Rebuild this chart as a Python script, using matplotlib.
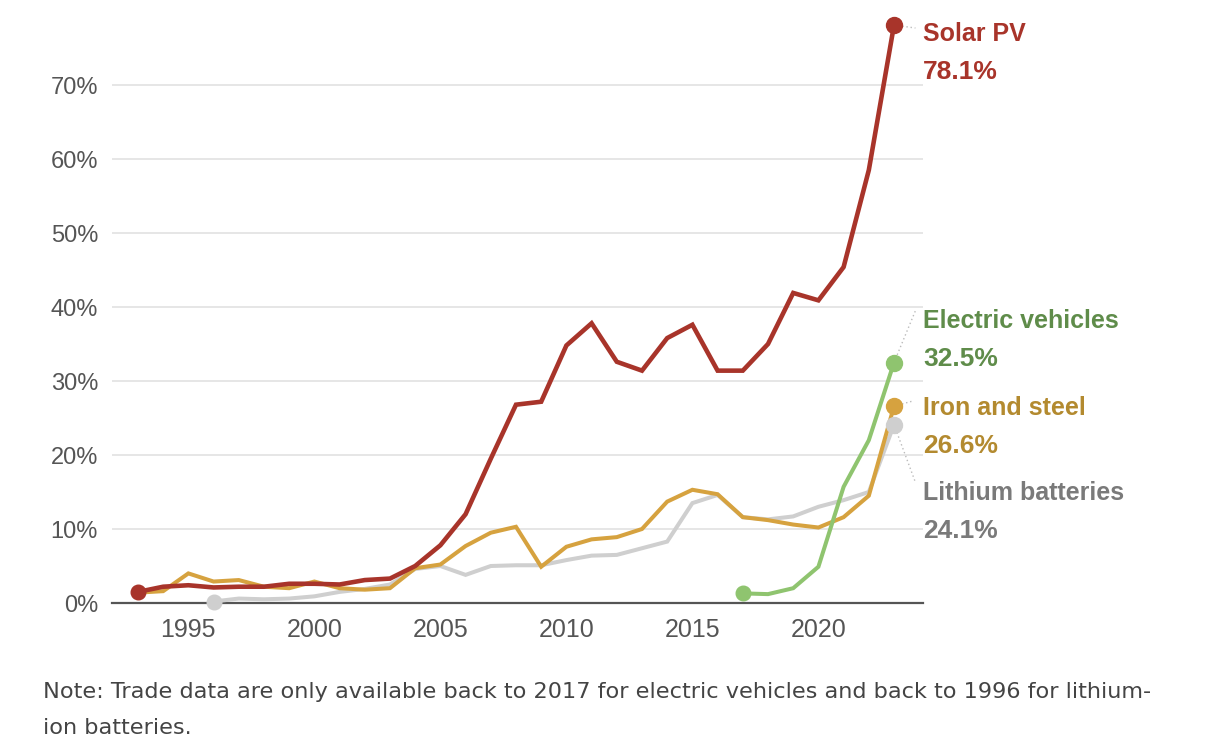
import matplotlib
matplotlib.use("Agg")
import matplotlib.pyplot as plt

plt.rcParams["font.family"] = ["Liberation Sans", "DejaVu Sans"]

years = list(range(1993, 2024))
solar = [1.5, 2.2, 2.4, 2.1, 2.2, 2.2, 2.6, 2.6, 2.5, 3.1, 3.3, 5.0, 7.8, 12.0, 19.5, 26.8,
         27.2, 34.8, 37.8, 32.6, 31.4, 35.8, 37.6, 31.4, 31.4, 35.0, 41.9, 40.9, 45.4, 58.5, 78.1]
iron = [1.4, 1.6, 4.0, 2.9, 3.1, 2.2, 2.0, 2.9, 2.0, 1.8, 2.0, 4.7, 5.2, 7.7, 9.5, 10.3,
        4.9, 7.6, 8.6, 8.9, 10.0, 13.7, 15.3, 14.7, 11.6, 11.2, 10.6, 10.2, 11.6, 14.5, 26.6]
lith_years = list(range(1996, 2024))
lith = [0.2, 0.6, 0.5, 0.6, 0.9, 1.5, 1.9, 2.5, 4.6, 5.0, 3.8, 5.0, 5.1, 5.1, 5.8, 6.4,
        6.5, 7.4, 8.3, 13.5, 14.6, 11.6, 11.3, 11.7, 13.0, 13.9, 15.0, 24.1]
ev_years = list(range(2017, 2024))
ev = [1.3, 1.2, 2.0, 4.9, 15.7, 22.0, 32.5]

note_lines = ["Note: Trade data are only available back to 2017 for electric vehicles and back to 1996 for lithium-",
              "ion batteries."]

RED, RED_TXT = "#A8342A", "#A8342A"
GOLD, GOLD_TXT = "#D6A23F", "#B38A2F"
GREEN, GREEN_TXT = "#8FC46F", "#5F8C4A"
GREY, GREY_TXT = "#CFCFCF", "#7A7A7A"

fig = plt.figure(figsize=(12.18, 7.52), dpi=100)
ax = fig.add_axes([112 / 1218, 149 / 752, 811 / 1218, 588 / 752])

# lines, bottom to top
ax.plot(lith_years, lith, color=GREY, lw=2.9, zorder=2, solid_joinstyle="miter")
ax.plot(years, iron, color=GOLD, lw=2.9, zorder=3, solid_joinstyle="miter")
ax.plot(ev_years, ev, color=GREEN, lw=2.9, zorder=4, solid_joinstyle="miter")
ax.plot(years, solar, color=RED, lw=3.3, zorder=5, solid_joinstyle="miter")

# start / end dots
for xs, ys, c, z, start in [(lith_years, lith, GREY, 6, True),
                            (years, iron, GOLD, 7, False),
                            (ev_years, ev, GREEN, 8, True),
                            (years, solar, RED, 9, True)]:
    ax.plot(xs[-1], ys[-1], "o", ms=11.5, color=c, zorder=z, clip_on=False)
    if start:
        ax.plot(xs[0], ys[0], "o", ms=10.5, color=c, zorder=z, clip_on=False)

# end labels
labels = [("Solar PV", "78.1%", RED_TXT, 76.9, 71.8),
          ("Electric vehicles", "32.5%", GREEN_TXT, 38.1, 33.0),
          ("Iron and steel", "26.6%", GOLD_TXT, 26.3, 21.2),
          ("Lithium batteries", "24.1%", GREY_TXT, 14.9, 9.7)]
lx = 2024.15
for name, val, c, y1, y2 in labels:
    ax.text(lx, y1, name, color=c, fontsize=18, fontweight="bold",
            va="center", ha="left", clip_on=False)
    ax.text(lx, y2, val, color=c, fontsize=19, fontweight="bold",
            va="center", ha="left", clip_on=False)

# dotted leaders
leaders = [((2023, solar[-1]), (2023.85, 77.7)),
           ((2023, ev[-1]), (2023.85, 39.5)),
           ((2023, iron[-1]), (2023.75, 27.3)),
           ((2023, lith[-1]), (2023.85, 16.3))]
for (x0, y0), (x1, y1) in leaders:
    ax.plot([x0, x1], [y0, y1], color="#BBBBBB", lw=1.0, ls=(0, (1, 2)),
            zorder=1, clip_on=False)

ax.set_xlim(1991.97, 2024.15)
ax.set_ylim(0, 79.46)
ax.set_yticks(range(0, 80, 10))
ax.set_yticklabels([f"{v}%" for v in range(0, 80, 10)])
ax.set_xticks(range(1995, 2021, 5))
ax.tick_params(axis="y", length=0, pad=10, labelsize=17, labelcolor="#555555")
ax.tick_params(axis="x", length=0, pad=11, labelsize=18, labelcolor="#555555")
ax.grid(axis="y", color="#E2E2E2", lw=1.2, zorder=0)
ax.set_axisbelow(True)
for s in ["top", "right", "left"]:
    ax.spines[s].set_visible(False)
ax.spines["bottom"].set_color("#555555")
ax.spines["bottom"].set_linewidth(1.6)
ax.spines["bottom"].set_zorder(1.5)

# note, sized so the first line spans the same width as in the source
note1 = fig.text(43 / 1218, 1 - 692 / 752, note_lines[0], fontsize=15, color="#444444",
                 va="center", ha="left", family="DejaVu Sans")
note2 = fig.text(43 / 1218, 1 - 728 / 752, note_lines[1], fontsize=15, color="#444444",
                 va="center", ha="left", family="DejaVu Sans")
r = fig.canvas.get_renderer()
w = note1.get_window_extent(renderer=r).width
fs = 15 * 1110 / w
note1.set_fontsize(fs)
note2.set_fontsize(fs)

fig.savefig("out.png", dpi=100, facecolor="white")
